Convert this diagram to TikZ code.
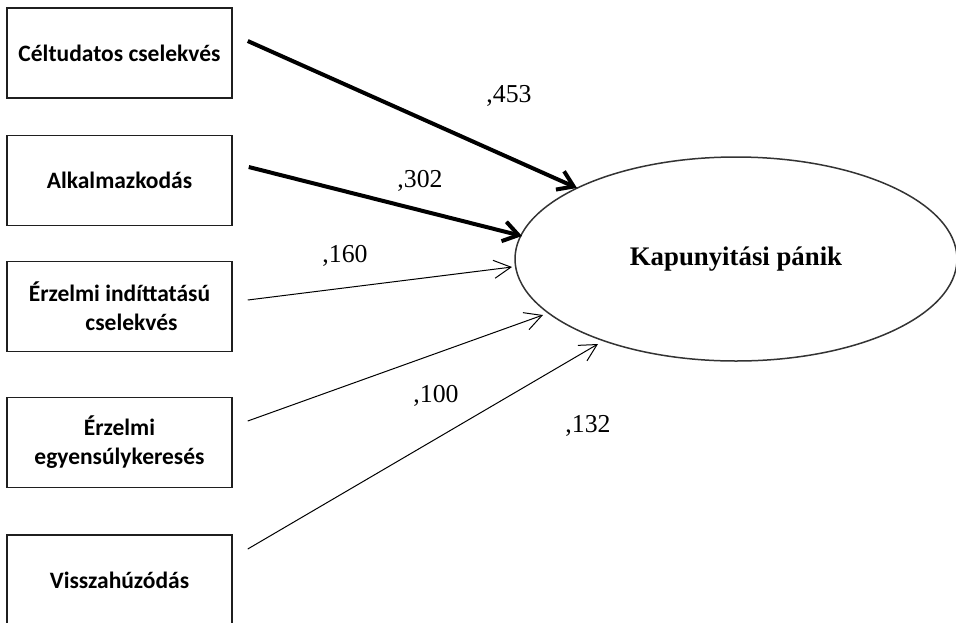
\documentclass[tikz,border=0pt]{standalone}
\usepackage{fontspec}
\setmainfont{Liberation Serif}
\newfontfamily\boxfont{Carlito}
\usetikzlibrary{shapes.geometric,arrows.meta}
\tikzset{
  varbox/.style={draw=black!88, line width=1.5pt, minimum width=225pt, minimum height=90pt,
    inner sep=0pt, align=center, font=\boxfont\bfseries\fontsize{23.5}{29}\selectfont},
  outcome/.style={draw=black!80, line width=1.5pt, ellipse, minimum width=442pt, minimum height=204pt,
    inner sep=0pt, font=\bfseries\fontsize{26.8}{31}\selectfont},
  coef/.style={anchor=base, inner sep=0pt, font=\fontsize{25.8}{30}\selectfont},
  strong/.style={line width=4pt, -{Straight Barb[length=15pt,width=20pt]}},
  weak/.style={line width=1pt, -{Straight Barb[length=17pt,width=18pt]}}
}
\begin{document}
\begin{tikzpicture}[x=1pt,y=-1pt]
\useasboundingbox (0,0) rectangle (956,622);
\node[varbox] (b1) at (119.5,53) {Céltudatos cselekvés};
\node[varbox] (b2) at (119.5,180.5) {Alkalmazkodás};
\node[varbox] (b3) at (119.5,306.5) {Érzelmi indíttatású\\\hspace*{24pt}cselekvés};
\node[varbox] (b4) at (119.5,442.5) {Érzelmi\\egyensúlykeresés};
\node[varbox] (b5) at (119.5,580) {Visszahúzódás};
\node[outcome] (kp) at (736,259) {Kapunyitási pánik};
\coordinate (t1) at (577,188);
\coordinate (t2) at (522,236);
\coordinate (t3) at (512,267);
\coordinate (t4) at (543,315);
\coordinate (t5) at (598,344);
\draw[strong] ([shift={(15,-12)}]b1.east) -- (t1);
\draw[strong] ([shift={(16,-13.5)}]b2.east) -- (t2);
\draw[weak] ([shift={(15,-6.5)}]b3.east) -- (t3);
\draw[weak] ([shift={(15,-21.5)}]b4.east) -- (t4);
\draw[weak] ([shift={(15,-31)}]b5.east) -- (t5);
\node[coef] (c1) at (509,102) {,453};
\node[coef] (c2) at (420,187) {,302};
\node[coef] (c3) at (345,262) {,160};
\node[coef] (c4) at (436,402) {,100};
\node[coef] (c5) at (588,432) {,132};
\end{tikzpicture}
\end{document}
